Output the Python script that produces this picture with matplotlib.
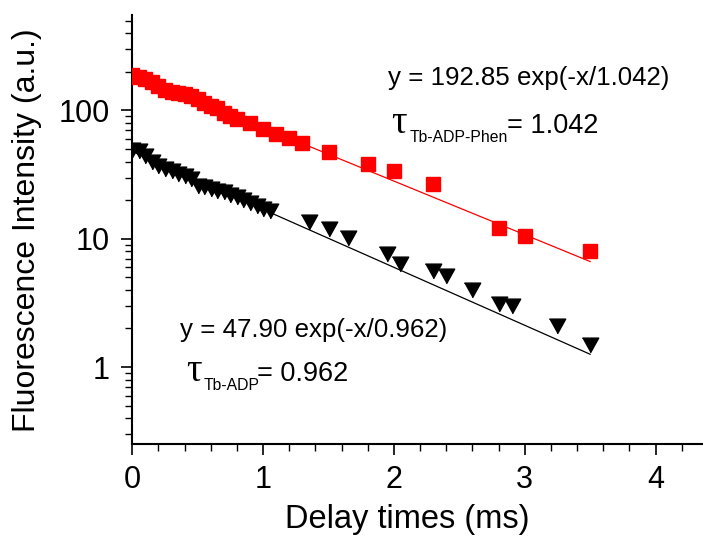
import numpy as np
import matplotlib
matplotlib.use("Agg")
import matplotlib.pyplot as plt
from matplotlib.ticker import LogLocator, MultipleLocator, FixedLocator, NullFormatter

# ---------------- data ----------------
red_x = [0.0, 0.05, 0.1, 0.15, 0.2, 0.25, 0.3, 0.35, 0.4, 0.45, 0.5, 0.55, 0.6, 0.65,
         0.7, 0.75, 0.8, 0.9, 1.0, 1.1, 1.2, 1.3, 1.5, 1.8, 2.0, 2.3, 2.8, 3.0, 3.5]
red_y = [188, 183, 175, 167, 155, 144.5, 139.4, 136.2, 133.8, 129.7, 123.6, 113.8, 108.4, 105.1,
         96.1, 90.6, 86.3, 79.4, 71.3, 65.6, 61.4, 55.5, 47.5, 38.1, 34.0, 26.9, 12.2, 10.5, 8.07]

black_x = [0.0, 0.05, 0.1, 0.15, 0.2, 0.25, 0.3, 0.35, 0.4, 0.45, 0.5, 0.55, 0.6, 0.65,
           0.7, 0.75, 0.8, 0.85, 0.9, 0.95, 1.0, 1.05, 1.35, 1.5, 1.65, 1.95, 2.05, 2.3,
           2.4, 2.6, 2.8, 2.9, 3.25, 3.5]
black_y = [49, 48, 44, 40, 37, 35, 33.5, 32, 31, 29, 26, 25.5, 24.5, 23.5,
           23, 22, 21, 20, 19, 18, 17.2, 16.5, 13.6, 11.9, 10.1, 7.6, 6.4, 5.6,
           5.1, 4.0, 3.1, 3.0, 2.1, 1.5]

# fitted lines (end points)
fit_x = [0.0, 3.5]
fit_red_y = [192.85, 6.65]
fit_black_y = [47.9, 1.26]

eq_red = "y = 192.85 exp(-x/1.042)"
eq_black = "y = 47.90 exp(-x/0.962)"
tau_red_sub, tau_red_val = "Tb-ADP-Phen", "= 1.042"
tau_black_sub, tau_black_val = "Tb-ADP", "= 0.962"

x_major = [0, 1, 2, 3, 4]
y_major = [1, 10, 100]

# ---------------- figure ----------------
plt.rcParams['font.family'] = ['Liberation Sans', 'DejaVu Sans']
W, H = 703, 538
fig = plt.figure(figsize=(W / 100, H / 100), dpi=100)
left, right, top, bottom = 132.3, 703, 15.4, 444.4
ax = fig.add_axes([left / W, 1 - bottom / H, (right - left) / W, (bottom - top) / H])

ax.set_yscale('log')
ax.set_xlim(0, 4.363)
ax.set_ylim(0.25, 550)

ax.plot(fit_x, fit_red_y, color='#ff0000', lw=0.9, zorder=2)
ax.plot(fit_x, fit_black_y, color='black', lw=0.9, zorder=2)

ax.plot(red_x, red_y, ls='none', marker='s', ms=9.8, color='#ff0000', mec='#ff0000', zorder=3)
tri = [(-1, 0.9), (1, 0.9), (0, -0.9)]
ax.plot(black_x, black_y, ls='none', marker=tri, ms=11.8, color='black', mec='black', zorder=3)

for s in ['top', 'right']:
    ax.spines[s].set_visible(False)
for s in ['left', 'bottom']:
    ax.spines[s].set_linewidth(1.5)

ax.xaxis.set_major_locator(FixedLocator(x_major))
ax.xaxis.set_minor_locator(MultipleLocator(0.2))
ax.yaxis.set_major_locator(FixedLocator(y_major))
ax.yaxis.set_minor_locator(LogLocator(base=10, subs=np.arange(2, 10)))
ax.yaxis.set_minor_formatter(NullFormatter())
ax.set_xticklabels([str(v) for v in x_major])
ax.set_yticklabels([str(v) for v in y_major])

ax.tick_params(which='major', direction='out', length=8, width=1.2, labelsize=22, pad=7)
ax.tick_params(which='minor', direction='out', length=5, width=1.0)
ax.tick_params(axis='y', which='major', pad=8)

ax.set_xlabel("Delay times (ms)", fontsize=23.5)
ax.xaxis.set_label_coords((407 - left) / (right - left), -0.138)
ax.set_ylabel("Fluorescence Intensity (a.u.)", fontsize=23, labelpad=12)


def ftxt(x, y, s, size, **kw):
    fig.text(x / W, 1 - y / H, s, fontsize=size, ha='left', va='baseline', **kw)


ftxt(388, 85, eq_red, 18.6)
ftxt(391, 133, "\u03c4", 28, family=['Liberation Serif', 'DejaVu Serif'])
ftxt(410, 142, tau_red_sub, 11.3)
ftxt(507, 133, tau_red_val, 19.5)

ftxt(180, 337, eq_black, 18.6)
ftxt(186, 381, "\u03c4", 28, family=['Liberation Serif', 'DejaVu Serif'])
ftxt(204, 390, tau_black_sub, 11.3)
ftxt(257, 381, tau_black_val, 19.5)

fig.savefig("out.png", dpi=100)
